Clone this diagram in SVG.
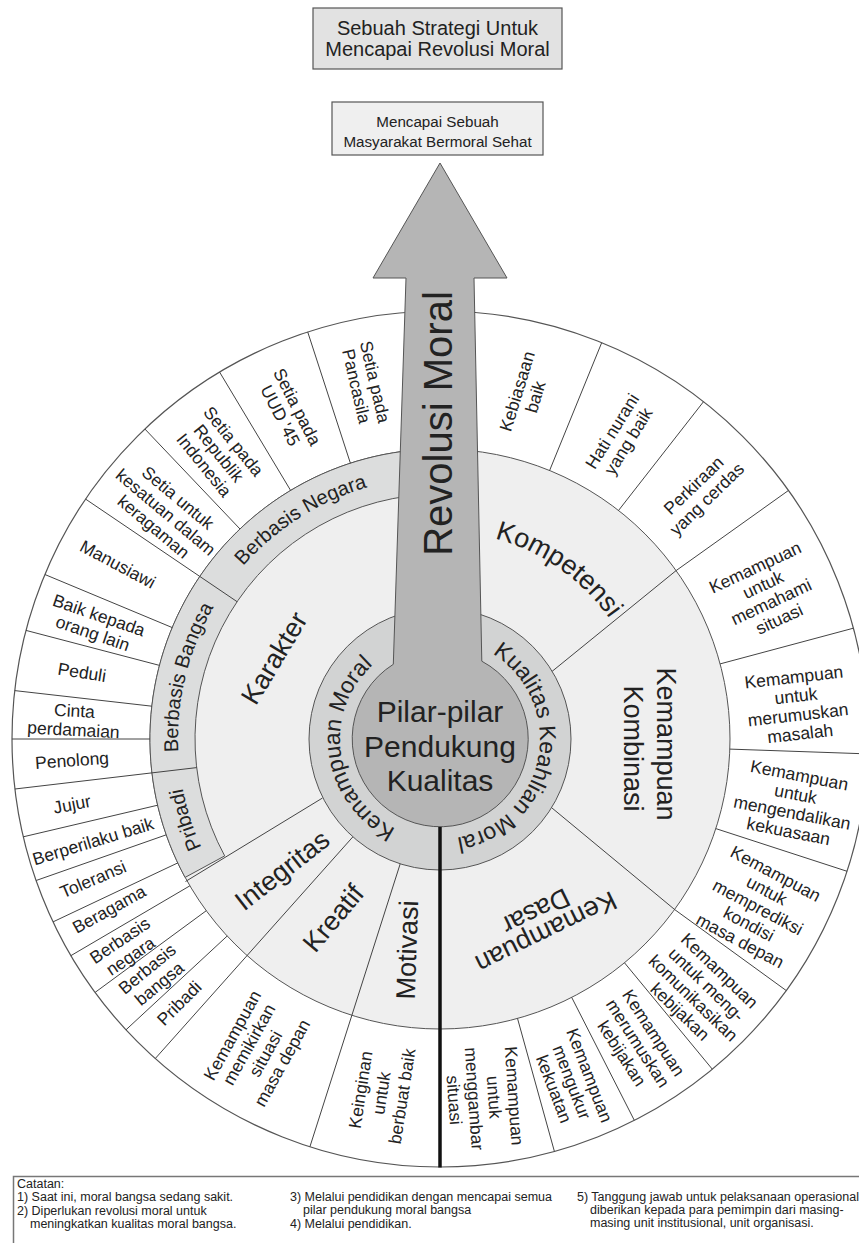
<svg xmlns="http://www.w3.org/2000/svg" width="859" height="1243" viewBox="0 0 859 1243">
<style>
text{font-family:"Liberation Sans",Arial,sans-serif;fill:#222;text-anchor:middle}
.o{font-size:17.5px}
.b{font-size:27px}
.r{font-size:23px}
.n{font-size:12.5px;text-anchor:start}
.ln{stroke:#444;stroke-width:1;fill:none}
</style>
<defs>
<path id="arcL" d="M 440 839 A 100 100 0 0 1 440 639"/>
<path id="arcR" d="M 440 639 A 100 100 0 0 1 440 839"/>
<path id="arcB" d="M 440 1001 A 262 262 0 0 1 440 477"/>
<path id="arcK" d="M 440 531 A 208 208 0 0 1 440 947"/>
</defs>
<rect width="859" height="1243" fill="#fff"/>
<g id="title">
<rect x="313" y="8" width="249" height="61" fill="#e2e2e2" stroke="#555" stroke-width="1.2"/>
<text x="437.5" y="35" style="font-size:20px">Sebuah Strategi Untuk</text>
<text x="437.5" y="55.5" style="font-size:20px">Mencapai Revolusi Moral</text>
</g>
<g id="goal">
<rect x="332" y="102" width="211" height="53" fill="#efefef" stroke="#555" stroke-width="1.2"/>
<text x="437.5" y="126.5" style="font-size:15.2px">Mencapai Sebuah</text>
<text x="437.5" y="146.5" style="font-size:15.2px">Masyarakat Bermoral Sehat</text>
</g>
<g id="outer-ring">
<circle cx="440" cy="739" r="428" fill="#fff" stroke="#555" stroke-width="1.2"/>
</g>
<g id="middle-ring">
<circle cx="440" cy="739" r="290" fill="#efefef" stroke="#555" stroke-width="1"/>
<path d="M 185.1 877.4 A 290 290 0 0 1 440 449 L 440 494 A 245 245 0 0 0 224.7 855.9 Z" fill="#dcdddd" stroke="#555" stroke-width="1"/>
</g>
<g id="connectors" class="ln">
<line x1="549.6" y1="470.5" x2="601.7" y2="342.7"/>
<line x1="618.5" y1="510.5" x2="703.5" y2="401.7"/>
<polyline points="551.7,671.7 676.1,570.6 788.4,490.5"/>
<line x1="720.1" y1="663.9" x2="853.4" y2="628.2"/>
<line x1="729.8" y1="749.1" x2="867.7" y2="753.9"/>
<line x1="715.8" y1="828.6" x2="847.1" y2="871.3"/>
<polyline points="552,808 674.6,909.5 786.3,990.6"/>
<line x1="624.5" y1="962.8" x2="712.3" y2="1069.2"/>
<line x1="571.7" y1="997.4" x2="634.3" y2="1120.3"/>
<line x1="517.5" y1="1018.4" x2="554.4" y2="1151.4"/>
<line x1="400.3" y1="863.5" x2="309.9" y2="1146.8"/>
<line x1="353.1" y1="836.6" x2="155.3" y2="1058.5"/>
<line x1="322.5" y1="798" x2="185.5" y2="881.5"/>
<line x1="227.2" y1="936" x2="126" y2="1029.8"/>
<line x1="206.3" y1="910.7" x2="95.1" y2="992.4"/>
<line x1="189.9" y1="885.8" x2="70.8" y2="955.7"/>
<line x1="177.8" y1="862.9" x2="53" y2="921.9"/>
<line x1="166.3" y1="834.8" x2="36.1" y2="880.5"/>
<line x1="157.7" y1="805.2" x2="23.3" y2="836.8"/>
<line x1="196.7" y1="767.6" x2="14.9" y2="789"/>
<line x1="150" y1="739" x2="12" y2="739"/>
<line x1="151.9" y1="706.2" x2="14.7" y2="690.6"/>
<line x1="159.5" y1="665.4" x2="26" y2="630.4"/>
<line x1="172.3" y1="627.6" x2="44.9" y2="574.5"/>
<line x1="237.1" y1="601.7" x2="85.6" y2="499.1"/>
<line x1="240" y1="529" x2="144.9" y2="429"/>
<line x1="290.6" y1="490.4" x2="219.6" y2="372.1"/>
<line x1="350.4" y1="463.2" x2="307.7" y2="331.9"/>
</g>
<g id="inner-ring">
<circle cx="440" cy="739" r="131" fill="#d2d3d3" stroke="#555" stroke-width="1"/>
</g>
<g id="arrow">
<path d="M 393.3 664.3 L 406 278 L 373 278 L 440 163 L 507 278 L 474 278 L 481.8 661.2 A 88 88 0 1 1 393.3 664.3 Z" fill="#b5b5b5" stroke="#555" stroke-width="1"/>
</g>
<g id="divider">
<line x1="440" y1="827" x2="440" y2="1167.5" stroke="#111" stroke-width="3.5"/>
</g>
<g id="center-labels">
<text x="440" y="721.7" style="font-size:30px">Pilar-pilar</text>
<text x="440" y="756.7" style="font-size:30px">Pendukung</text>
<text x="440" y="790.7" style="font-size:30px">Kualitas</text>
<text transform="translate(452,423.5) rotate(-90)" style="font-size:40px">Revolusi Moral</text>
<text class="r"><textPath href="#arcL" startOffset="45.6%">Kemampuan Moral</textPath></text>
<text class="r"><textPath href="#arcR" startOffset="56.1%">Kualitas Keahlian Moral</textPath></text>
</g>
<g id="pillar-labels">
<text class="b" transform="translate(274,658) rotate(-59)" y="9.5">Karakter</text>
<text class="b"><textPath href="#arcK" startOffset="19.4%">Kompetensi</textPath></text>
<text class="b" transform="translate(650,746) rotate(90)"><tspan x="-2" y="-7.2">Kemampuan</tspan><tspan x="2.5" y="26.2">Kombinasi</tspan></text>
<text class="b" transform="translate(542.1,924.1) rotate(154)">Kemampuan</text>
<text class="b" transform="translate(532,903.4) rotate(154)">Dasar</text>
<text class="b" transform="translate(282,870) rotate(-38)" y="9.5">Integritas</text>
<text class="b" transform="translate(333,918) rotate(-50)" y="9.5">Kreatif</text>
<text class="b" transform="translate(407,950) rotate(-88)" y="9.5">Motivasi</text>
<text style="font-size:20px"><textPath href="#arcB" startOffset="82%">Berbasis Negara</textPath></text>
<text style="font-size:20px"><textPath href="#arcB" startOffset="57.6%">Berbasis Bangsa</textPath></text>
<text style="font-size:20px"><textPath href="#arcB" startOffset="40.2%">Pribadi</textPath></text>
</g>
<g id="item-labels" class="o">
<text class="o" transform="translate(366,384) rotate(77)"><tspan x="0" y="-3.2">Setia pada</tspan><tspan x="0" y="15.8">Pancasila</tspan></text>
<text class="o" transform="translate(289,411) rotate(63)"><tspan x="0" y="-3.2">Setia pada</tspan><tspan x="0" y="15.8">UUD '45</tspan></text>
<text class="o" transform="translate(219,453) rotate(51)"><tspan x="0" y="-12.7">Setia pada</tspan><tspan x="0" y="6.3">Republik</tspan><tspan x="0" y="25.3">Indonesia</tspan></text>
<text class="o" transform="translate(166,512) rotate(40)"><tspan x="0" y="-12.7">Setia untuk</tspan><tspan x="0" y="6.3">kesatuan dalam</tspan><tspan x="0" y="25.3">keragaman</tspan></text>
<text class="o" transform="translate(118,564) rotate(28)" y="6.3">Manusiawi</text>
<text class="o" transform="translate(96,624) rotate(19)"><tspan x="0" y="-3.2">Baik kepada</tspan><tspan x="0" y="15.8">orang lain</tspan></text>
<text class="o" transform="translate(82,672) rotate(9)" y="6.3">Peduli</text>
<text class="o" transform="translate(74,720) rotate(3)"><tspan x="0" y="-3.2">Cinta</tspan><tspan x="0" y="15.8">perdamaian</tspan></text>
<text class="o" transform="translate(72,760) rotate(-4)" y="6.3">Penolong</text>
<text class="o" transform="translate(72,804) rotate(-11)" y="6.3">Jujur</text>
<text class="o" transform="translate(93,841) rotate(-17)" y="6.3">Berperilaku baik</text>
<text class="o" transform="translate(93,879) rotate(-23)" y="6.3">Toleransi</text>
<text class="o" transform="translate(109,909) rotate(-29)" y="6.3">Beragama</text>
<text class="o" transform="translate(125,948) rotate(-34)"><tspan x="0" y="-3.2">Berbasis</tspan><tspan x="0" y="15.8">negara</tspan></text>
<text class="o" transform="translate(153,976) rotate(-39.5)"><tspan x="0" y="-3.2">Berbasis</tspan><tspan x="0" y="15.8">bangsa</tspan></text>
<text class="o" transform="translate(179,1003) rotate(-45)" y="6.3">Pribadi</text>
<text class="o" transform="translate(257,1049) rotate(-61)"><tspan x="0" y="-22.2">Kemampuan</tspan><tspan x="0" y="-3.2">memikirkan</tspan><tspan x="0" y="15.8">situasi</tspan><tspan x="0" y="34.8">masa depan</tspan></text>
<text class="o" transform="translate(381,1093) rotate(-81)"><tspan x="0" y="-14.7">Keinginan</tspan><tspan x="0" y="6.3">untuk</tspan><tspan x="0" y="27.3">berbuat baik</tspan></text>
<text class="o" transform="translate(526,394) rotate(-73)"><tspan x="0" y="-3.2">Kebiasaan</tspan><tspan x="0" y="15.8">baik</tspan></text>
<text class="o" transform="translate(620,436) rotate(-58)"><tspan x="0" y="-3.2">Hati nurani</tspan><tspan x="0" y="15.8">yang baik</tspan></text>
<text class="o" transform="translate(700,492) rotate(-44)"><tspan x="0" y="-3.2">Perkiraan</tspan><tspan x="0" y="15.8">yang cerdas</tspan></text>
<text class="o" transform="translate(767,593) rotate(-25)"><tspan x="0" y="-22.2">Kemampuan</tspan><tspan x="0" y="-3.2">untuk</tspan><tspan x="0" y="15.8">memahami</tspan><tspan x="0" y="34.8">situasi</tspan></text>
<text class="o" transform="translate(797,705) rotate(-6.5)"><tspan x="0" y="-22.2">Kemampuan</tspan><tspan x="0" y="-3.2">untuk</tspan><tspan x="0" y="15.8">merumuskan</tspan><tspan x="0" y="34.8">masalah</tspan></text>
<text class="o" transform="translate(794,803) rotate(11)"><tspan x="0" y="-22.2">Kemampuan</tspan><tspan x="0" y="-3.2">untuk</tspan><tspan x="0" y="15.8">mengendalikan</tspan><tspan x="0" y="34.8">kekuasaan</tspan></text>
<text class="o" transform="translate(758,907) rotate(28)"><tspan x="0" y="-31.7">Kemampuan</tspan><tspan x="0" y="-12.7">untuk</tspan><tspan x="0" y="6.3">memprediksi</tspan><tspan x="0" y="25.3">kondisi</tspan><tspan x="0" y="44.3">masa depan</tspan></text>
<text class="o" transform="translate(700,991) rotate(44)"><tspan x="0" y="-22.2">Kemampuan</tspan><tspan x="0" y="-3.2">untuk meng-</tspan><tspan x="0" y="15.8">komunikasikan</tspan><tspan x="0" y="34.8">kebijakan</tspan></text>
<text class="o" transform="translate(638,1043) rotate(57)"><tspan x="0" y="-12.7">Kemampuan</tspan><tspan x="0" y="6.3">merumuskan</tspan><tspan x="0" y="25.3">kebijakan</tspan></text>
<text class="o" transform="translate(572,1082) rotate(69)"><tspan x="0" y="-12.7">Kemampuan</tspan><tspan x="0" y="6.3">mengukur</tspan><tspan x="0" y="25.3">kekuatan</tspan></text>
<text class="o" transform="translate(484,1098) rotate(86)"><tspan x="0" y="-24.2">Kemampuan</tspan><tspan x="0" y="-4.2">untuk</tspan><tspan x="0" y="15.8">menggambar</tspan><tspan x="0" y="35.8">situasi</tspan></text>
</g>
<g id="notes">
<rect x="13.5" y="1176.5" width="870" height="100" fill="#fff" stroke="#777" stroke-width="1.5"/>
<text class="n" x="17" y="1187.5">Catatan:</text>
<text class="n" x="17" y="1201">1) Saat ini, moral bangsa sedang sakit.</text>
<text class="n" x="17" y="1214.5">2) Diperlukan revolusi moral untuk</text>
<text class="n" x="30" y="1227.5">meningkatkan kualitas moral bangsa.</text>
<text class="n" x="290" y="1201">3) Melalui pendidikan dengan mencapai semua</text>
<text class="n" x="303" y="1213.5">pilar pendukung moral bangsa</text>
<text class="n" x="290" y="1228">4) Melalui pendidikan.</text>
<text class="n" x="577" y="1201">5) Tanggung jawab untuk pelaksanaan operasional</text>
<text class="n" x="590" y="1214">diberikan kepada para pemimpin dari masing-</text>
<text class="n" x="590" y="1227">masing unit institusional, unit organisasi.</text>
</g>
</svg>
